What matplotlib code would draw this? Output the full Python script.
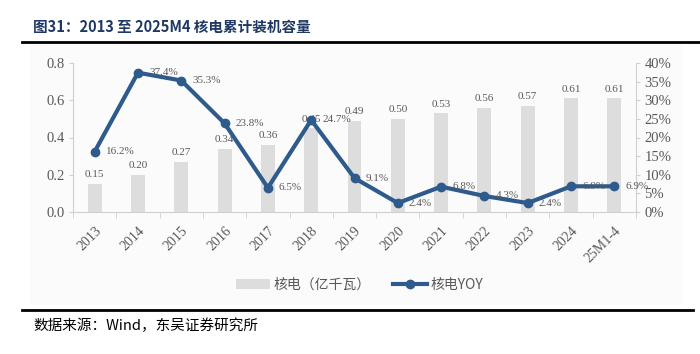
import matplotlib
matplotlib.use("Agg")
import matplotlib.pyplot as plt
from matplotlib.lines import Line2D
from matplotlib.patches import Patch, Rectangle
import numpy as np

categories = ["2013", "2014", "2015", "2016", "2017", "2018", "2019", "2020",
              "2021", "2022", "2023", "2024", "25M1-4"]
capacity = [0.15, 0.20, 0.27, 0.34, 0.36, 0.45, 0.49, 0.50, 0.53, 0.56, 0.57, 0.61, 0.61]
yoy = [16.2, 37.4, 35.3, 23.8, 6.5, 24.7, 9.1, 2.4, 6.8, 4.3, 2.4, 6.9, 6.9]
left_ticks = [0.0, 0.2, 0.4, 0.6, 0.8]
right_ticks = [0, 5, 10, 15, 20, 25, 30, 35, 40]

serif = ["Liberation Serif", "Noto Sans CJK SC"]
cjk = ["Noto Sans CJK SC", "DejaVu Sans"]
gray_text = "#595959"
bar_color = "#dddddd"
line_color = "#2e5a8c"
axis_color = "#d0d0d0"

fig = plt.figure(figsize=(7.0, 3.54), dpi=100)

# light panel background
bg = Rectangle((30/700, 1-305/354), (683-30)/700, (305-45)/354,
               transform=fig.transFigure, facecolor="#fbfbfb",
               edgecolor="none", zorder=-10)
fig.add_artist(bg)

ax = fig.add_axes([73/700, 1-212/354, (636-73)/700, (212-63)/354])
ax.patch.set_alpha(0)
x = np.arange(len(categories))
ax.bar(x, capacity, width=0.32, color=bar_color, zorder=1)
ax.set_ylim(0, 0.8)
ax.set_xlim(-0.5, len(categories)-0.5)
ax.set_yticks(left_ticks)
ax.set_yticklabels([f"{v:.1f}" for v in left_ticks], family=serif, fontsize=10.5, color=gray_text)
for i, v in enumerate(capacity):
    ax.text(i, v + 0.025, f"{v:.2f}", ha="center", va="bottom", family=serif,
            fontsize=8, color=gray_text, zorder=2)

ax.set_xticks(x)
ax.set_xticklabels(categories, rotation=45, ha="right", rotation_mode="anchor",
                   family=serif, fontsize=10, color=gray_text)
ax.set_xticks(np.arange(-0.5, len(categories)), minor=True)
ax.tick_params(axis="x", which="major", length=0, pad=9)
ax.tick_params(axis="x", which="minor", length=4, color=axis_color)
ax.tick_params(axis="y", length=3, color=axis_color, pad=3)
for s in ["top", "right"]:
    ax.spines[s].set_visible(False)
for s in ["left", "bottom"]:
    ax.spines[s].set_color(axis_color)

ax2 = ax.twinx()
ax2.patch.set_alpha(0)
ax2.set_ylim(0, 40)
ax2.plot(x, yoy, color=line_color, lw=3, marker="o", markersize=6, zorder=5)
ax2.set_yticks(right_ticks)
ax2.set_yticklabels([f"{v}%" for v in right_ticks], family=serif, fontsize=10.5, color=gray_text)
ax2.tick_params(axis="y", length=3, color=axis_color, pad=3)
for s in ["top", "left", "bottom"]:
    ax2.spines[s].set_visible(False)
ax2.spines["right"].set_color(axis_color)
for i, v in enumerate(yoy):
    ax2.annotate(f"{v:.1f}%", (i, v), xytext=(8, 0), textcoords="offset points",
                 ha="left", va="center", family=serif, fontsize=8, color=gray_text, zorder=6)

# legend
handles = [Patch(facecolor=bar_color, edgecolor="none"),
           Line2D([0], [0], color=line_color, lw=3, marker="o", markersize=6)]
leg = fig.legend(handles, ["核电（亿千瓦）", "核电YOY"], loc="center",
                 bbox_to_anchor=(360/700, 1-285/354), ncol=2, frameon=False,
                 prop={"family": cjk, "size": 10}, handlelength=2.4, columnspacing=1.6,
                 handletextpad=0.3)
for t in leg.get_texts():
    t.set_color(gray_text)

# title and rules
fig.text(33/700, 1-27/354, "图31：2013 至 2025M4 核电累计装机容量", family=cjk,
         fontsize=10.5, fontweight="bold", color="#1f3864", va="center", ha="left")
fig.add_artist(Line2D([22/700, 1.0], [1-42/354, 1-42/354], color="black", lw=2,
                      transform=fig.transFigure))
fig.add_artist(Line2D([22/700, 693/700], [1-310/354, 1-310/354], color="black", lw=2,
                      transform=fig.transFigure))
fig.text(33/700, 1-326/354, "数据来源：Wind，东吴证券研究所", family=cjk,
         fontsize=10.5, color="black", va="center", ha="left")

fig.savefig("out.png", dpi=100)
